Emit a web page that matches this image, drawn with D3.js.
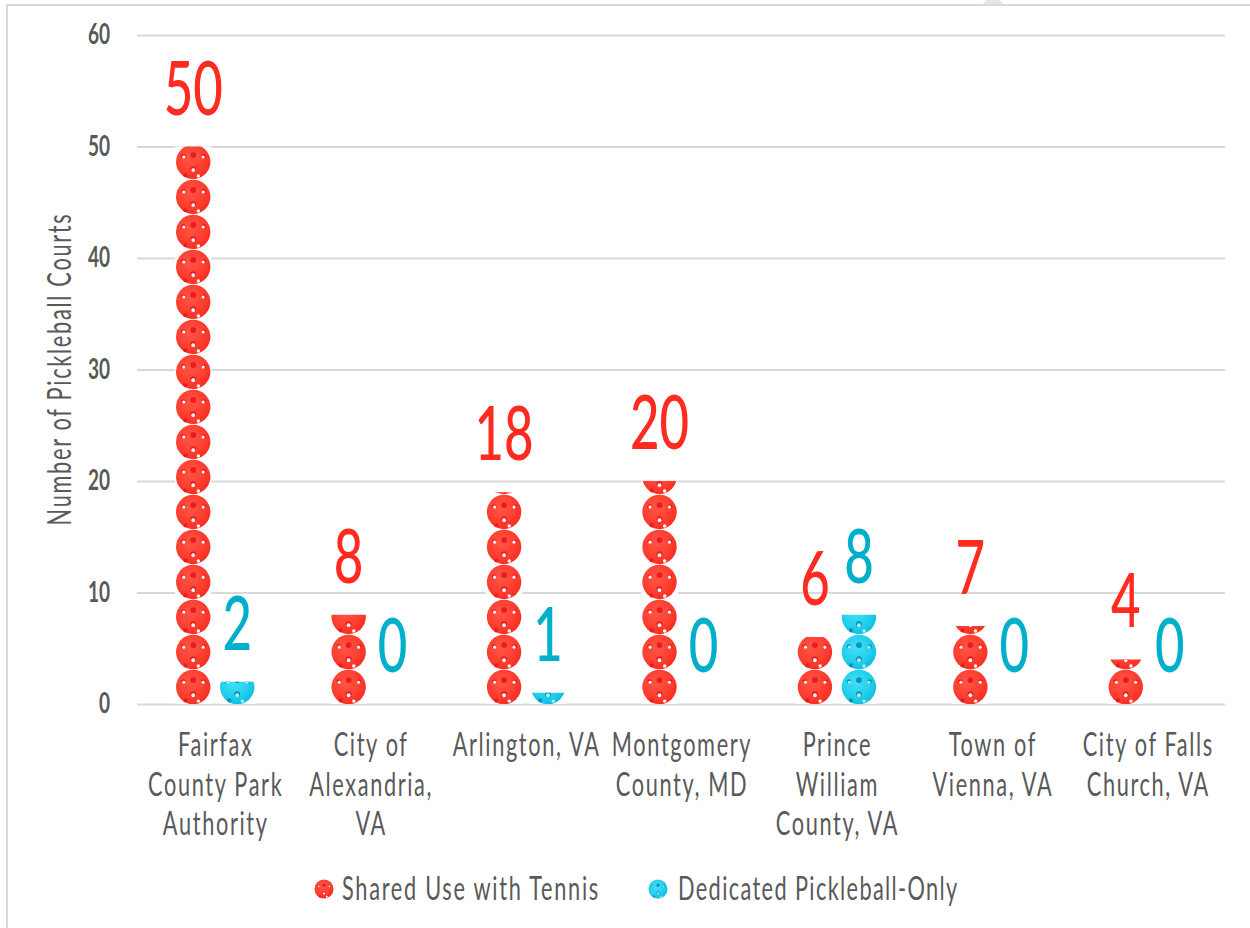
<!DOCTYPE html>
<html>
  <head>
    <meta charset="utf-8">
    <script src="https://cdn.jsdelivr.net/npm/d3@7"></script>
    <style>
      html, body { margin: 0; padding: 0; background: #fff; overflow: hidden; }
      text { font-family: Lato, "Liberation Sans", sans-serif; fill: #595959; }
    </style>
  </head>
  <body>
    <script>
      // values
      var categories = ["Fairfax County Park Authority", "City of Alexandria, VA", "Arlington, VA", "Montgomery County, MD",
                        "Prince William County, VA", "Town of Vienna, VA", "City of Falls Church, VA"];
      var categoryLines = [["Fairfax", "County Park", "Authority"], ["City of", "Alexandria,", "VA"], ["Arlington, VA"],
                           ["Montgomery", "County, MD"], ["Prince", "William", "County, VA"], ["Town of", "Vienna, VA"],
                           ["City of Falls", "Church, VA"]];
      var seriesNames = ["Shared Use with Tennis", "Dedicated Pickleball-Only"];
      // the Arlington stack is drawn a little higher than its label says
      var sharedHeights = [50, 8, 19, 20, 6, 7, 4];
      var sharedLabels = [50, 8, 18, 20, 6, 7, 4];
      var dedicatedHeights = [2, 0, 1, 0, 8, 0, 0];
      var dedicatedLabels = [2, 0, 1, 0, 8, 0, 0];
      var yTicks = [0, 10, 20, 30, 40, 50, 60];
      var yTitle = "Number of Pickleball Courts";

      // one ball picture stands for this many courts
      var unitsPerBall = 3.14;

      // dimples on a ball of radius 1: x, y, r, dark or light
      var dimples = [[-0.58, -0.32, 0.13, 0], [-0.55, -0.28, 0.09, 1], [0, -0.4, 0.17, 0], [0.62, -0.32, 0.13, 0], [0.58, -0.28, 0.09, 1],
                     [0, 0.42, 0.17, 0], [0, 0.48, 0.11, 1], [-0.46, 0.78, 0.12, 0], [0.3, 0.82, 0.1, 1]];

      var width = 1250,
          height = 928;

      var colors = ["#ff2a20", "#00afc9"];
      var ballColors = [
        {light: "#ff5646", mid: "#ff3f30", dark: "#f62a20", hole: "#ea1c22", spot: "#fff"},
        {light: "#42e0f6", mid: "#22cfec", dark: "#0cbade", hole: "#1090b6", spot: "#b4ecf6"}
      ];

      var svg = d3.select("body").append("svg")
          .attr("width", width)
          .attr("height", height)
          .style("display", "block");

      // frame of the cropped screenshot
      svg.append("circle").attr("cx", 993).attr("cy", 9).attr("r", 11).attr("fill", "#e6e6e6");
      svg.append("rect").attr("x", 7).attr("y", 5).attr("width", width + 10).attr("height", height + 10)
          .attr("fill", "#fff").attr("stroke", "#d9d9d9").attr("stroke-width", 2);

      var x0 = d3.scaleBand().domain(categories).range([137, 1225]);
      var x1 = d3.scaleBand().domain(seriesNames).range([-43.5, 44.5]);
      var y = d3.scaleLinear().domain([0, 60]).range([704, 35]);

      var ballHeight = y(0) - y(unitsPerBall);
      var ballRadius = ballHeight / 2 - 0.3;

      // no condensed font is installed, so text gets squeezed sideways
      var squeeze = 0.68;

      // ball pictures
      var defs = svg.append("defs");
      ballColors.forEach(function(c, i) {
        var grad = defs.append("radialGradient").attr("id", "ballFill" + i)
            .attr("cx", "42%").attr("cy", "38%").attr("r", "68%");
        grad.append("stop").attr("offset", "0%").attr("stop-color", c.light);
        grad.append("stop").attr("offset", "60%").attr("stop-color", c.mid);
        grad.append("stop").attr("offset", "100%").attr("stop-color", c.dark);

        var ball = defs.append("g").attr("id", "ball" + i);
        ball.append("circle").attr("r", 1).attr("fill", "url(#ballFill" + i + ")");
        ball.selectAll("circle.hole")
            .data(dimples)
            .enter().append("circle")
            .attr("class", "hole")
            .attr("cx", function(d) { return d[0]; })
            .attr("cy", function(d) { return d[1]; })
            .attr("r", function(d) { return d[2]; })
            .attr("fill", function(d) { return d[3] ? c.spot : c.hole; });
      });

      // gridlines and y axis
      var yAxis = d3.axisLeft(y).tickValues(yTicks).tickSize(-(x0.range()[1] - x0.range()[0]));
      var yG = svg.append("g").attr("transform", "translate(137,0)").call(yAxis);
      yG.select(".domain").remove();
      yG.selectAll(".tick line").attr("stroke", "#d9d9d9").attr("stroke-width", 2);
      yG.selectAll(".tick text")
          .attr("x", 0)
          .attr("transform", "translate(-27,0) scale(" + squeeze + ",1)")
          .attr("font-size", 28)
          .attr("font-weight", 700)
          .attr("font-family", null)
          .style("fill", "#595959");

      svg.append("text")
          .attr("transform", "translate(71,369) rotate(-90) scale(" + squeeze + ",1)")
          .attr("text-anchor", "middle")
          .attr("font-size", 32)
          .attr("letter-spacing", 2.5)
          .text(yTitle);

      // category labels
      categories.forEach(function(cat, ci) {
        var cx = x0(cat) + x0.bandwidth() / 2 + 1;
        svg.selectAll(".cat" + ci).data(categoryLines[ci]).enter().append("text")
            .attr("class", "cat" + ci)
            .attr("transform", function(d, i) { return "translate(" + cx + "," + (756 + i * 39.5) + ") scale(" + squeeze + ",1)"; })
            .attr("text-anchor", "middle")
            .attr("font-size", 32)
            .attr("letter-spacing", 2.4)
            .text(function(d) { return d; });
      });

      // stacks of balls, cut off at the value
      var series = [
        {name: seriesNames[0], heights: sharedHeights, labels: sharedLabels},
        {name: seriesNames[1], heights: dedicatedHeights, labels: dedicatedLabels}
      ];

      series.forEach(function(s, si) {
        var g = svg.append("g");
        categories.forEach(function(cat, ci) {
          var value = s.heights[ci];
          var cx = x0(cat) + x0.bandwidth() / 2 + x1(s.name) + x1.bandwidth() / 2;
          var clipId = "clip" + si + "_" + ci;

          svg.select("defs").append("clipPath").attr("id", clipId).append("rect")
              .attr("x", cx - 22)
              .attr("y", y(value))
              .attr("width", 44)
              .attr("height", y(0) - y(value));

          var bar = g.append("g").attr("clip-path", "url(#" + clipId + ")");
          var balls = bar.selectAll("g").data(d3.range(Math.ceil(value / unitsPerBall))).enter().append("g");

          balls.append("rect")
              .attr("x", cx - 18)
              .attr("y", function(d) { return y(0) - (d + 1) * ballHeight; })
              .attr("width", 36)
              .attr("height", ballHeight)
              .attr("fill", "#fff");
          balls.append("use")
              .attr("href", "#ball" + si)
              .attr("transform", function(d) {
                return "translate(" + cx + "," + (y(0) - (d + 0.5) * ballHeight + 0.5) + ") scale(" + ballRadius + ")";
              });

          g.append("text")
              .attr("transform", "translate(" + cx + "," + (y(value) - 32) + ") scale(" + squeeze + ",1)")
              .attr("text-anchor", "middle")
              .attr("font-size", 75)
              .attr("font-weight", 500)
              .style("fill", colors[si])
              .text(s.labels[ci]);
        });
      });

      // legend
      var legendX = [324, 658];
      var legendSpacing = [2.5, 2];
      var legend = svg.selectAll(".legend").data(seriesNames).enter().append("g")
          .attr("class", "legend")
          .attr("transform", function(d, i) { return "translate(" + legendX[i] + ",889)"; });
      legend.append("use")
          .attr("href", function(d, i) { return "#ball" + i; })
          .attr("transform", "scale(9.5)");
      legend.append("text")
          .attr("transform", function(d, i) { return "translate(" + (i ? 20 : 18) + ",11) scale(" + squeeze + ",1)"; })
          .attr("font-size", 32)
          .attr("letter-spacing", function(d, i) { return legendSpacing[i]; })
          .text(function(d) { return d; });
    </script>
  </body>
</html>
